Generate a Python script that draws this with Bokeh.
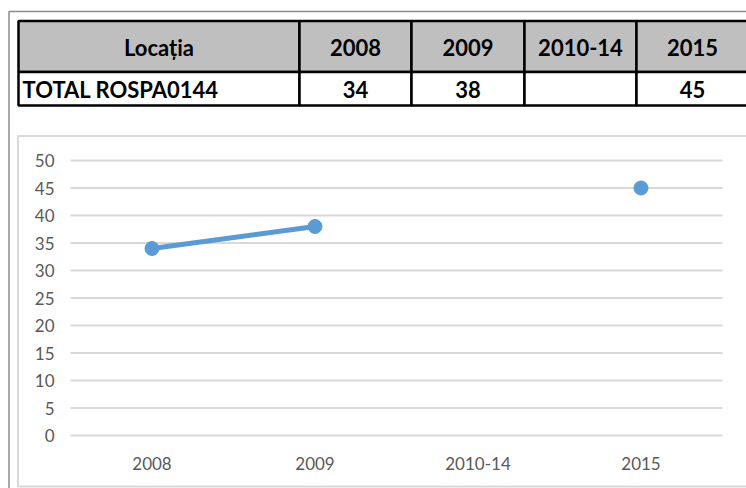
from bokeh.plotting import figure
from bokeh.models import Range1d, ColumnDataSource
from bokeh.core.properties import value
from bokeh.embed import file_html
from bokeh.resources import INLINE

# ---- data ----
categories = ["2008", "2009", "2010-14", "2015"]
counts = [34, 38, None, 45]
header_label = "Locația"
row_label = "TOTAL ROSPA0144"
y_ticks = [0, 5, 10, 15, 20, 25, 30, 35, 40, 45, 50]

# ---- layout constants (canvas pixels) ----
W, H = 746, 488
FONT = "Lato"
LINE_BLUE = "#5B9BD5"
FRAME_GRAY = "#8c8c8c"
BOX_GRAY = "#d9d9d9"
GRID_GRAY = "#D9D9D9"
LABEL_GRAY = "#595959"

PLOT_L, PLOT_R, PLOT_T, PLOT_B = 70, 722, 160, 435
Y_MAX = 50

p = figure(width=W, height=H, x_range=Range1d(0, W), y_range=Range1d(H, 0),
           output_backend="svg", toolbar_location=None,
           x_axis_location=None, y_axis_location=None,
           min_border_left=0, min_border_right=0, min_border_top=0, min_border_bottom=0,
           outline_line_color=None, background_fill_color="white", border_fill_color="white")
p.grid.visible = False

# ---- chart scales (category index space / value space) ----
n = len(categories)
unit_x = (PLOT_R - PLOT_L) / n
unit_y = (PLOT_B - PLOT_T) / Y_MAX
p.extra_x_ranges = {"cx": Range1d(-PLOT_L / unit_x, n + (W - PLOT_R) / unit_x)}
p.extra_y_ranges = {"cy": Range1d(-(H - PLOT_B) / unit_y, PLOT_B / unit_y)}

# ---- page frame and chart box ----
p.line([8.5, 8.5, W], [H, 11, 11], line_color=FRAME_GRAY, line_width=1.5)
p.quad(left=[17.5], right=[W + 5], top=[135.5], bottom=[486],
       fill_color=None, line_color=BOX_GRAY, line_width=2)

# ---- table ----
col_edges = [18, 299, 411, 524, 636, 752]
row_top, row_mid, row_bot = 20.5, 71.5, 105
lefts = col_edges[:-1]
rights = col_edges[1:]
m = len(lefts)
p.quad(left=lefts, right=rights, top=[row_top] * m, bottom=[row_mid] * m,
       fill_color="#BFBFBF", line_color="black", line_width=2.5)
p.quad(left=lefts, right=rights, top=[row_mid] * m, bottom=[row_bot] * m,
       fill_color="white", line_color="black", line_width=2.5)

centers = [(a + b) / 2 for a, b in zip(lefts, rights)]
centers[-1] = (lefts[-1] + W) / 2 + 1
header_texts = [header_label] + categories
p.text(x=centers, y=[(row_top + row_mid) / 2 + 1] * m, text=header_texts,
       text_font=value(FONT), text_font_style="bold", text_font_size="22px",
       text_align="center", text_baseline="middle", text_color="black")
data_texts = ["" if v is None else str(v) for v in counts]
p.text(x=centers[1:], y=[(row_mid + row_bot) / 2 + 1] * (m - 1), text=data_texts,
       text_font=value(FONT), text_font_style="bold", text_font_size="22px",
       text_align="center", text_baseline="middle", text_color="black")
p.text(x=[lefts[0] + 4], y=[(row_mid + row_bot) / 2 + 1], text=[row_label],
       text_font=value(FONT), text_font_style="bold", text_font_size="22px",
       text_align="left", text_baseline="middle", text_color="black")

# ---- chart: grid, tick labels, series ----
xs = [i + 0.5 for i in range(n)]
p.segment(x0=[0] * len(y_ticks), x1=[n] * len(y_ticks), y0=y_ticks, y1=y_ticks,
          x_range_name="cx", y_range_name="cy", line_color=GRID_GRAY, line_width=2)
p.text(x=[0] * len(y_ticks), y=y_ticks, text=[str(v) for v in y_ticks],
       x_range_name="cx", y_range_name="cy", x_offset=-16,
       text_font=value(FONT), text_font_size="17px", text_color=LABEL_GRAY,
       text_align="right", text_baseline="middle")
p.text(x=xs, y=[0] * n, text=categories, x_range_name="cx", y_range_name="cy",
       y_offset=28, text_font=value(FONT), text_font_size="17px", text_color=LABEL_GRAY,
       text_align="center", text_baseline="middle")

vals = [float("nan") if v is None else v for v in counts]
src = ColumnDataSource(dict(x=xs, y=vals, cat=categories))
p.line("x", "y", source=src, x_range_name="cx", y_range_name="cy",
       line_color=LINE_BLUE, line_width=5)
p.scatter("x", "y", source=src, x_range_name="cx", y_range_name="cy",
          size=14, fill_color=LINE_BLUE, line_color=LINE_BLUE)

open("out.html", "w").write(file_html(p, INLINE))
